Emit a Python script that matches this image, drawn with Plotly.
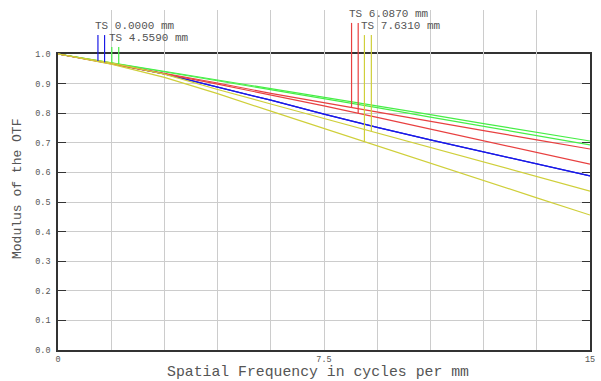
import plotly.graph_objects as go
import numpy as np

# ---- data ----
freq = [0, 1.5, 3, 4.5, 6, 7.5, 9, 10.5, 12, 13.5, 15]

blue_t   = [1.0, 0.968, 0.933, 0.889, 0.844, 0.797, 0.752, 0.710, 0.669, 0.628, 0.588]
blue_s   = [1.0, 0.968, 0.933, 0.889, 0.844, 0.797, 0.752, 0.710, 0.669, 0.628, 0.588]
green_t  = [1.0, 0.971, 0.942, 0.913, 0.883, 0.854, 0.824, 0.795, 0.765, 0.736, 0.706]
green_s  = [1.0, 0.970, 0.940, 0.910, 0.879, 0.849, 0.819, 0.787, 0.756, 0.724, 0.693]
red_t    = [1.0, 0.968, 0.934, 0.902, 0.867, 0.835, 0.804, 0.773, 0.741, 0.710, 0.679]
red_s    = [1.0, 0.967, 0.933, 0.898, 0.862, 0.825, 0.786, 0.747, 0.707, 0.668, 0.628]
yellow_t = [1.0, 0.966, 0.921, 0.866, 0.807, 0.748, 0.690, 0.631, 0.573, 0.514, 0.456]
yellow_s = [1.0, 0.970, 0.932, 0.880, 0.831, 0.782, 0.734, 0.685, 0.635, 0.586, 0.537]

field_labels = ["TS 0.0000 mm", "TS 4.5590 mm", "TS 6.0870 mm", "TS 7.6310 mm"]
x_ticks = [0, 1.5, 3, 4.5, 6, 7.5, 9, 10.5, 12, 13.5, 15]
x_tick_text = ["0", "", "", "", "", "7.5", "", "", "", "", "15"]
y_ticks = [0.0, 0.1, 0.2, 0.3, 0.4, 0.5, 0.6, 0.7, 0.8, 0.9, 1.0]
y_tick_text = ["0.0", "0.1", "0.2", "0.3", "0.4", "0.5", "0.6", "0.7", "0.8", "0.9", "1.0"]

# legend-marker placement (frequency of each T/S marker, and marker top level)
marker_freq = [(1.126, 1.313), (1.517, 1.712), (8.277, 8.464), (8.640, 8.835)]
marker_top = [1.064, 1.024, 1.105, 1.064]

colors = ["#1a1ae6", "#46ee46", "#e84040", "#cfcf3a"]
series = [(blue_t, blue_s), (green_t, green_s), (red_t, red_s), (yellow_t, yellow_s)]

# ---- layout geometry ----
W, H = 601, 381
ML, MR, MT, MB = 58, 6, 10, 31
plot_h = H - MT - MB
frame_h = 296
y_dom_top = frame_h / plot_h
y2_top = plot_h / frame_h

FONT = "Liberation Mono, Courier New, monospace"
TXT = "#555555"

fig = go.Figure()

for (t, s), c in zip(series, colors):
    for d in (t, s):
        fig.add_trace(go.Scatter(x=freq, y=d, mode="lines", yaxis="y2",
                                 line=dict(color=c, width=1.2), showlegend=False,
                                 hoverinfo="skip"))

for i, ((m1, m2), c) in enumerate(zip(marker_freq, colors)):
    t, s = series[i]
    ends = [np.interp(m1, freq, t), np.interp(m2, freq, s)]
    if i == 3:
        ends = [np.interp(m1, freq, t), np.interp(m2, freq, s)]
    for m, e in zip((m1, m2), ends):
        fig.add_trace(go.Scatter(x=[m, m], y=[e, marker_top[i]], mode="lines", yaxis="y2",
                                 line=dict(color=c, width=1.2), showlegend=False,
                                 hoverinfo="skip"))
    fig.add_annotation(x=m1, y=marker_top[i], xref="x", yref="y2", text=field_labels[i],
                       showarrow=False, xanchor="left", yanchor="middle",
                       xshift=-5, yshift=9, font=dict(family=FONT, size=11, color=TXT))

fig.add_annotation(x=7.5, y=0, xref="x", yref="paper", yanchor="middle",
                   text="Spatial Frequency in cycles per mm", showarrow=False,
                   yshift=-22, xshift=-6, font=dict(family=FONT, size=14.8, color=TXT))
fig.add_annotation(x=0, y=0.544, xref="paper", yref="y", xanchor="center",
                   text="Modulus of the OTF", showarrow=False, textangle=-90,
                   xshift=-40, font=dict(family=FONT, size=13, color=TXT))

fig.update_layout(
    width=W, height=H,
    margin=dict(l=ML, r=MR, t=MT, b=MB, pad=0),
    paper_bgcolor="white", plot_bgcolor="rgba(0,0,0,0)",
    showlegend=False,
    xaxis=dict(range=[0, 15], tickvals=x_ticks, ticktext=x_tick_text,
               showgrid=True, gridcolor="#cccccc", gridwidth=1, zeroline=False,
               showline=True, linecolor="#333333", linewidth=1.5, mirror="ticks",
               ticks="inside", ticklen=5, tickcolor="#333333",
               tickfont=dict(family=FONT, size=8.5, color=TXT), anchor="y"),
    yaxis=dict(range=[0, 1], domain=[0, y_dom_top], tickvals=y_ticks, ticktext=y_tick_text,
               showgrid=True, gridcolor="#cccccc", gridwidth=1, zeroline=False,
               showline=True, linecolor="#333333", linewidth=1.5, mirror="ticks",
               ticks="inside", ticklen=8, tickcolor="#333333", ticklabelstandoff=4,
               tickfont=dict(family=FONT, size=8.5, color=TXT)),
    yaxis2=dict(range=[0, y2_top], domain=[0, 1], visible=False, anchor="x",
                showgrid=False, zeroline=False),
)

fig.write_html("out.html", config={"displayModeBar": False},
               post_script="document.body.style.margin='0';document.body.style.padding='0';")
